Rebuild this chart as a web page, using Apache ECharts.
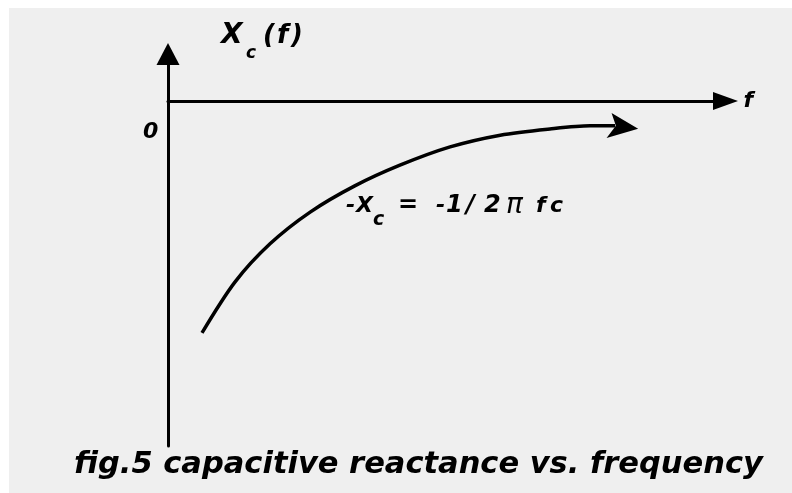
<!DOCTYPE html>
<html>
<head>
<meta charset="utf-8">
<script src="https://cdn.jsdelivr.net/npm/echarts@6/dist/echarts.min.js"></script>
<style>
  html, body { margin: 0; padding: 0; background: #fff; overflow: hidden; }
  .wrap { position: relative; width: 792px; height: 493px; overflow: hidden; }
  .paper { position: absolute; left: 9px; top: 8px; width: 800px; height: 500px; background: #efefef; }
  .com-chart { position: absolute; left: 0; top: 0; width: 792px; height: 493px; }
</style>
</head>
<body>
<div class="wrap">
  <div class="paper"></div>
  <div class="com-chart" id="main"></div>
</div>
<script>
// frequency (x) and -Xc (y)
const freq = [0.61, 1.20, 1.83, 2.55, 3.35, 4.16, 5.06, 5.96, 6.85, 7.57, 8.02]
const reactance = [-6.72, -5.25, -4.14, -3.22, -2.46, -1.86, -1.33, -0.99, -0.81, -0.72, -0.72]
// arrow head at the end of the curve
const headX = [8.15]
const headY = [-0.71]

const font = 'DejaVu Sans'

// one cell per glyph so the text gets the wide spacing of the original
function cell(size, w, extra) {
  return Object.assign({
    fontFamily: font, fontWeight: 'bold', fontStyle: 'italic',
    fontSize: size, color: '#000', width: w, align: 'left'
  }, extra || {})
}

const chart = echarts.init(document.getElementById('main'))

const option = {
  backgroundColor: 'transparent',
  animation: false,
  title: [
    {
      text: '{X|X}{s|c}{a|(}{b|f}{a|)}',
      left: 221,
      top: 9.5,
      padding: 0,
      textStyle: {
        rich: {
          X: cell(28, 25, { lineHeight: 53 }),
          s: cell(17, 17, { lineHeight: 14, verticalAlign: 'bottom' }),
          a: cell(26, 14, { lineHeight: 53 }),
          b: cell(26, 14, { lineHeight: 53 })
        }
      }
    },
    {
      text: '0',
      left: 143,
      top: 121,
      padding: 0,
      textStyle: { fontFamily: font, fontWeight: 'bold', fontStyle: 'italic', fontSize: 22, color: '#000' }
    },
    {
      text: '{m|-}{X|X}{s|c}{e|=}{m|-}{o|1}{l|/}{t|2}{p|π}{f|f}{c|c}',
      left: 346,
      top: 182,
      padding: 0,
      textStyle: {
        rich: {
          m: cell(22, 10, { lineHeight: 48 }),
          X: cell(22, 17, { lineHeight: 48 }),
          s: cell(19, 25, { lineHeight: 14, verticalAlign: 'bottom' }),
          e: cell(24, 38, { lineHeight: 48 }),
          o: cell(24, 20, { lineHeight: 48 }),
          l: cell(24, 18, { lineHeight: 48 }),
          t: cell(24, 22, { lineHeight: 48 }),
          p: cell(28, 30, { lineHeight: 48, fontWeight: 'normal' }),
          f: cell(22, 14, { lineHeight: 48 }),
          c: cell(22, 16, { lineHeight: 48 })
        }
      }
    },
    {
      text: 'fig.5 capacitive reactance vs. frequency',
      left: 74,
      top: 450,
      padding: 0,
      textStyle: { fontFamily: font, fontWeight: 'bold', fontStyle: 'italic', fontSize: 30.5, color: '#000' }
    }
  ],
  grid: {
    left: 168,
    right: 66.5,
    top: 54,
    bottom: 47
  },
  xAxis: {
    type: 'value',
    min: 0,
    max: 10,
    name: 'f',
    nameLocation: 'end',
    nameGap: 18,
    nameTextStyle: { fontFamily: font, fontWeight: 'bold', fontStyle: 'italic', fontSize: 22, color: '#000' },
    axisLine: {
      onZero: true,
      symbol: ['none', 'triangle'],
      symbolSize: [18, 25],
      lineStyle: { color: '#000', width: 3 }
    },
    axisTick: { show: false },
    axisLabel: { show: false },
    splitLine: { show: false }
  },
  yAxis: {
    type: 'value',
    min: -10,
    max: 1.3623,
    axisLine: {
      onZero: true,
      symbol: ['none', 'triangle'],
      symbolSize: [23, 22],
      lineStyle: { color: '#000', width: 3 }
    },
    axisTick: { show: false },
    axisLabel: { show: false },
    splitLine: { show: false }
  },
  series: [
    {
      type: 'line',
      data: freq.map((f, i) => [f, reactance[i]]),
      smooth: 0.3,
      symbol: 'none',
      lineStyle: { color: '#000', width: 3.5 }
    },
    {
      type: 'scatter',
      data: headX.map((f, i) => [f, headY[i]]),
      symbol: 'path://M5,0L31.6,15.7L0,25L9.3,12.7Z',
      symbolSize: [31.6, 25],
      itemStyle: { color: '#000', opacity: 1 }
    }
  ]
}

chart.setOption(option)
</script>
</body>
</html>
